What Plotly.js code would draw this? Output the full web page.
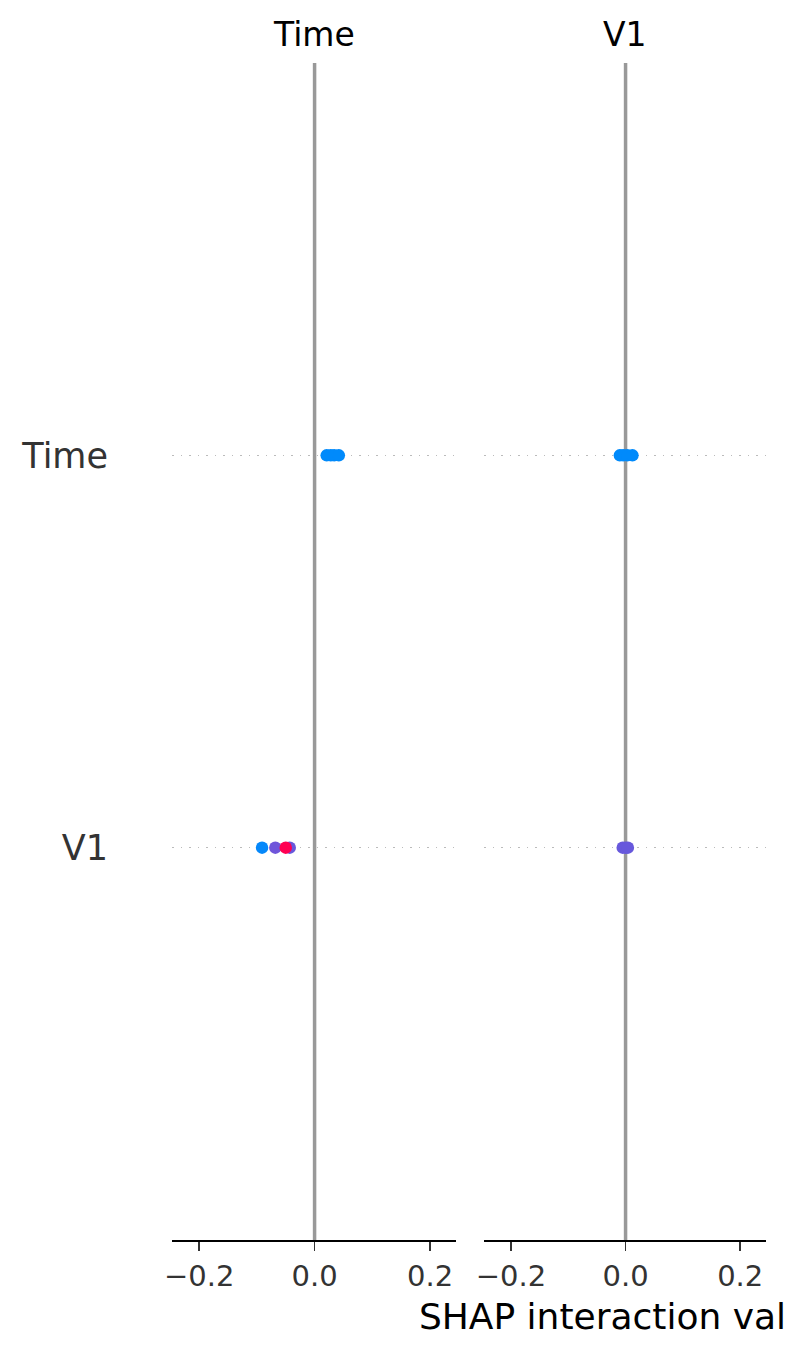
<!DOCTYPE html>
<html>
<head>
<meta charset="utf-8">
<script src="https://cdn.plot.ly/plotly-3.0.1.min.js"></script>
<style>html,body{margin:0;padding:0;background:#fff;overflow:hidden}</style>
</head>
<body>
<div id="chart" style="width:786px;height:1355px"></div>
<script>
// Feature rows (y positions): V1 = 0, Time = 1
const features = ["V1", "Time"];
const panelTitles = ["Time", "V1"];
const xTicks = [-0.2, 0.0, 0.2];
const xTickText = ["\u22120.2", "0.0", "0.2"];

// Panel "Time": interaction SHAP values
const timeTimeX = [0.021, 0.028, 0.034, 0.042];
const timeTimeC = [0.0, 0.0, 0.0, 0.0];
const timeV1X = [-0.091, -0.068, -0.043, -0.050];
const timeV1C = [0.02, 0.45, 0.42, 1.0];

// Panel "V1": interaction SHAP values
const v1TimeX = [-0.010, -0.004, 0.003, 0.012];
const v1TimeC = [0.0, 0.0, 0.0, 0.0];
const v1V1X = [-0.005, 0.0, 0.004];
const v1V1C = [0.42, 0.42, 0.42];

const shapScale = [[0, '#008afb'], [0.5, '#7b4fd6'], [1, '#ff0052']];

function pts(x, c, row, xa, ya) {
  return {
    type: 'scatter', mode: 'markers',
    x: x, y: x.map(() => row),
    xaxis: xa, yaxis: ya,
    marker: {size: 12.5, color: c, colorscale: shapScale, cmin: 0, cmax: 1, line: {width: 0}},
    showlegend: false, hoverinfo: 'x'
  };
}

const data = [
  pts(timeTimeX, timeTimeC, 1, 'x', 'y'),
  pts(timeV1X, timeV1C, 0, 'x', 'y'),
  pts(v1TimeX, v1TimeC, 1, 'x2', 'y2'),
  pts(v1V1X, v1V1C, 0, 'x2', 'y2')
];

const H = 1355, W = 786;
const yDom = [(H - 1240) / H, (H - 63) / H];
const xDom1 = [172 / W, 456 / W];
const xDom2 = [484 / W, 766 / W];

function xaxis(dom, anchor) {
  return {
    domain: dom, anchor: anchor, range: [-0.247, 0.245],
    tickvals: xTicks, ticktext: xTickText,
    showgrid: false, zeroline: false,
    showline: true, linecolor: '#000', linewidth: 2,
    ticks: 'outside', ticklen: 9, tickwidth: 1.6, tickcolor: '#333',
    tickfont: {family: 'DejaVu Sans', size: 29, color: '#333'}
  };
}
function yaxis(anchor, labels) {
  return {
    domain: yDom, anchor: anchor, range: [-1, 2],
    tickvals: [0, 1], ticktext: features,
    showticklabels: labels,
    showgrid: true, gridcolor: '#bbbbbb', griddash: '1.5px,7px', gridwidth: 1.5,
    zeroline: false, showline: false, ticks: '',
    ticklabelstandoff: 63,
    tickfont: {family: 'DejaVu Sans', size: 35, color: '#333'}
  };
}

const layout = {
  width: W, height: H,
  margin: {l: 0, r: 0, t: 0, b: 0},
  paper_bgcolor: '#fff', plot_bgcolor: '#fff',
  xaxis: xaxis(xDom1, 'y'),
  yaxis: yaxis('x', true),
  xaxis2: Object.assign(xaxis(xDom2, 'y2'), {
    title: {text: 'SHAP interaction value', standoff: 12,
      font: {family: 'DejaVu Sans', size: 36, color: '#000'}}
  }),
  yaxis2: yaxis('x2', false),
  shapes: [
    {type: 'line', xref: 'x', yref: 'y domain', x0: 0, x1: 0, y0: 0, y1: 1,
      line: {color: '#999999', width: 3.5}, layer: 'below'},
    {type: 'line', xref: 'x2', yref: 'y2 domain', x0: 0, x1: 0, y0: 0, y1: 1,
      line: {color: '#999999', width: 3.5}, layer: 'below'}
  ],
  annotations: [
    {text: panelTitles[0], xref: 'x domain', yref: 'paper', x: 0.5, y: (H - 35) / H,
      xanchor: 'center', yanchor: 'middle', showarrow: false,
      font: {family: 'DejaVu Sans', size: 33, color: '#000'}},
    {text: panelTitles[1], xref: 'x2 domain', yref: 'paper', x: 0.5, y: (H - 35) / H,
      xanchor: 'center', yanchor: 'middle', showarrow: false,
      font: {family: 'DejaVu Sans', size: 33, color: '#000'}}
  ]
};

Plotly.newPlot('chart', data, layout, {displayModeBar: false, staticPlot: true});
</script>
</body>
</html>
